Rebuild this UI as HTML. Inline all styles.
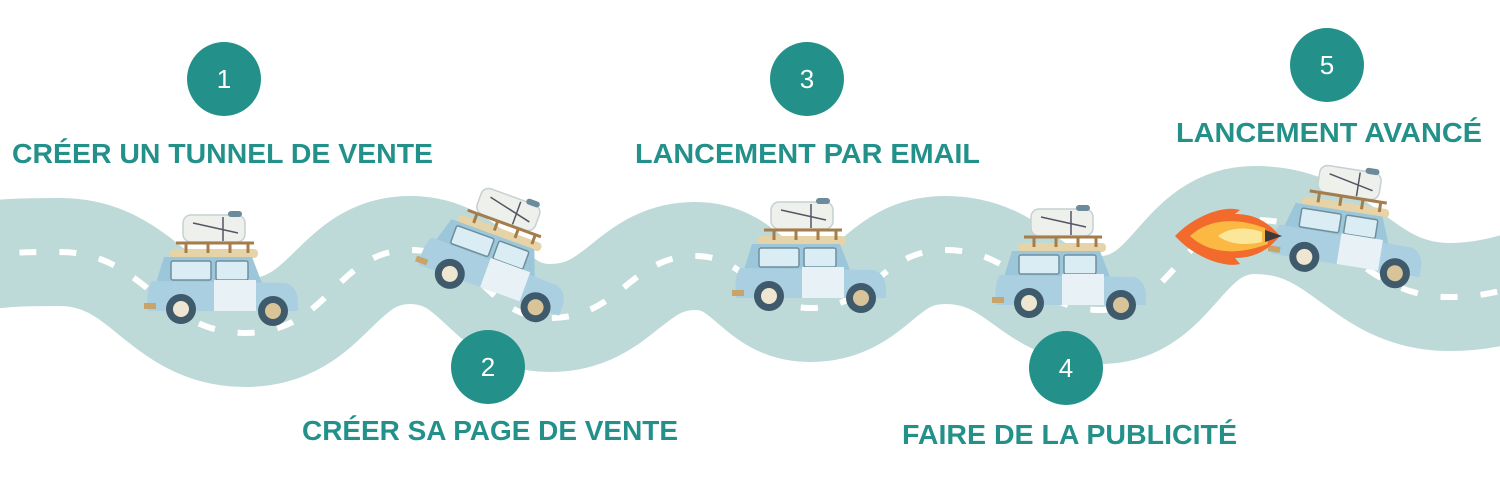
<!DOCTYPE html>
<html><head><meta charset="utf-8"><style>
html,body{margin:0;padding:0;background:#fff;}
svg{display:block;}
text{font-family:"Liberation Sans",sans-serif;font-weight:bold;}
</style></head><body>
<svg width="1500" height="483" viewBox="0 0 1500 483" xmlns="http://www.w3.org/2000/svg">
<defs>
<g id="car">
  <rect x="35" y="12" width="62" height="27" rx="8" fill="#eef0ec" stroke="#c6cfd2" stroke-width="1.5"/>
  <rect x="80" y="8" width="14" height="6" rx="3" fill="#6b8a9a"/>
  <path d="M45,20 L90,30 M75,14 L75,38" stroke="#556" stroke-width="1.5" fill="none"/>
  <rect x="22" y="46" width="88" height="9" rx="4" fill="#e6d3a8"/>
  <path d="M28,40 L106,40 M38,40 L38,50 M60,40 L60,50 M82,40 L82,50 M100,40 L100,50" stroke="#a67c4a" stroke-width="3" fill="none"/>
  <path d="M16,54 L104,54 L114,80 L8,80 Z" fill="#9cc7da"/>
  <rect x="23" y="58" width="40" height="19" rx="2" fill="#dbedf4" stroke="#6f8e9c" stroke-width="1.5"/>
  <rect x="68" y="58" width="32" height="19" rx="2" fill="#dbedf4" stroke="#6f8e9c" stroke-width="1.5"/>
  <path d="M4,78 L138,80 Q150,84 150,100 L150,108 L0,108 Q-2,86 4,78 Z" fill="#a9cfe1"/>
  <rect x="66" y="77" width="42" height="31" fill="#e8f1f5"/>
  <rect x="-4" y="100" width="12" height="6" fill="#c9a46a"/>
  <circle cx="33" cy="106" r="15" fill="#3f5a6a"/>
  <circle cx="33" cy="106" r="8" fill="#efe6d2"/>
  <circle cx="125" cy="108" r="15" fill="#3f5a6a"/>
  <circle cx="125" cy="108" r="8" fill="#d9c49a"/>
</g>
</defs>

<path d="M-60,262 C0,252 20,252 60,252 C145,252 160,333 245,333 C330,333 335,250 410,250 C480,250 485,318 550,318 C620,318 630,256 695,256 C750,256 755,308 810,308 C875,308 880,250 945,250 C1020,250 1030,310 1100,310 C1175,310 1180,220 1255,220 C1345,220 1360,297 1450,297 C1500,297 1530,280 1580,270"
 fill="none" stroke="#bdd9d8" stroke-width="108"/>
<path d="M-60,262 C0,252 20,252 60,252 C145,252 160,333 245,333 C330,333 335,250 410,250 C480,250 485,318 550,318 C620,318 630,256 695,256 C750,256 755,308 810,308 C875,308 880,250 945,250 C1020,250 1030,310 1100,310 C1175,310 1180,220 1255,220 C1345,220 1360,297 1450,297 C1500,297 1530,280 1580,270"
 fill="none" stroke="#fff" stroke-width="6" stroke-dasharray="17 23"/>

<use href="#car" x="148" y="203"/>
<g transform="translate(505,245) rotate(20) translate(-75,-60)"><use href="#car"/></g>
<use href="#car" x="736" y="190"/>
<use href="#car" x="996" y="197"/>
<g transform="translate(1353,218) rotate(9) translate(-75,-60)"><use href="#car"/></g>

<path d="M1175,236 C1195,215 1225,205 1240,210 L1235,214 C1255,214 1268,222 1280,236 C1268,250 1255,258 1235,258 L1240,264 C1225,268 1195,258 1175,236 Z" fill="#f26a2c"/>
<path d="M1190,236 C1205,222 1230,215 1265,228 L1268,244 C1230,258 1205,250 1190,236 Z" fill="#fbb843"/>
<path d="M1218,236 C1228,228 1245,226 1262,232 L1262,242 C1245,246 1228,244 1218,236 Z" fill="#fbe79a"/>
<path d="M1265,230 L1282,236 L1265,242 Z" fill="#3a3a3a"/>

<g fill="#23918a">
<circle cx="224" cy="79" r="37"/>
<circle cx="488" cy="367" r="37"/>
<circle cx="807" cy="79" r="37"/>
<circle cx="1066" cy="368" r="37"/>
<circle cx="1327" cy="65" r="37"/>
</g>
<g fill="#fff" font-size="26" text-anchor="middle">
<text x="224" y="88" style="font-weight:normal">1</text>
<text x="488" y="376" style="font-weight:normal">2</text>
<text x="807" y="88" style="font-weight:normal">3</text>
<text x="1066" y="377" style="font-weight:normal">4</text>
<text x="1327" y="74" style="font-weight:normal">5</text>
</g>

<g fill="#23918a" font-size="28">
<text x="12" y="163" textLength="421" lengthAdjust="spacingAndGlyphs">CRÉER UN TUNNEL DE VENTE</text>
<text x="302" y="440" textLength="376" lengthAdjust="spacingAndGlyphs">CRÉER SA PAGE DE VENTE</text>
<text x="635" y="163" textLength="345" lengthAdjust="spacingAndGlyphs">LANCEMENT PAR EMAIL</text>
<text x="902" y="444" textLength="335" lengthAdjust="spacingAndGlyphs">FAIRE DE LA PUBLICITÉ</text>
<text x="1176" y="142" textLength="306" lengthAdjust="spacingAndGlyphs">LANCEMENT AVANCÉ</text>
</g>
</svg>
</body></html>
